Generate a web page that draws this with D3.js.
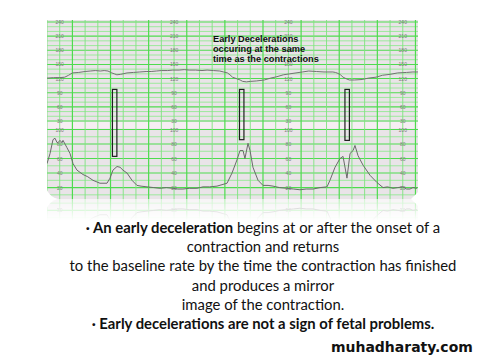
<!DOCTYPE html>
<html><head><meta charset="utf-8">
<script src="https://cdn.jsdelivr.net/npm/d3@7"></script>
<style>html,body{margin:0;padding:0;background:#fff;} svg{display:block;}</style>
</head><body>
<svg id="c" width="480" height="360"></svg>
<script>
// ---- data ----
const fhrTime=[0,5,10,14,17,20,25,30,34,38,42,45,48,51,53,55,58,63,68,73,78,82,86,90,95,99,104,108,112,117,122,126,131,136,139,142,144,146,149,152,154,157,160,165,171,176,181,186,191,196,201,206,212,218,225,227,229,231,233,236,238,242,248,253,259,264,270,276,283,288,292];
const fhrBpm=[121,122,122,123,127,132,133,135,136,137,136,137,136,132,130,128,129,132,133,134,135,135,136,137,137,138,138,139,138,138,137,138,137,136,134,132,128,123,120,117,114,113,114,115,117,121,124,128,130,132,134,136,135,134,134,133,131,128,123,119,117,117,118,121,123,127,129,132,133,134,134];
const ucTime=[0,2.4,4.7,6.3,7.9,8.7,10.2,11.8,12.6,15.7,18.1,20.5,23.6,28.3,32,36.2,41.7,47.2,49.6,51.9,55.1,57.5,59.8,63,66.9,70.8,74,78.7,84,88.9,94,99.2,103,107,112,118,122.8,128,133.8,141.7,145.6,149.5,151.9,154.3,155.8,158.2,159.8,162.1,166.1,170,174,177.9,183,188.9,194,199.1,204,209.4,215,220.4,222.7,226.7,230.6,233,236.1,238.5,240.9,242.4,244.8,248.7,254.2,259.7,264.5,268,272.3,276,280.2,283,285.7,288,291.2];
const ucValue=[53,67,86,88,82,82,85,82,85,75,67,53,44,38,35,30,26,26,33,44,49,48,44,40,30,23,22,21,20,19,20,19,18,18,19,19,21,21,22,26,40,58,71,71,60,81,71,48,30,23,23,22,20,19,18,17,18,18,20,21,30,48,60,63,33,67,71,78,64,51,37,27,20,21,19,20,21,18,18,20,19];
const fhrTicks=[240,210,180,150,120,90,60,30];
const ucTicks=[100,80,60,40,20];
const labelTimes=[10,100,190,280];
const decelStart=[51.5,151.5,234.5];
const decelEnd=[55,155,238];
const decelTop=[97,97,97];
const decelBottom=[63,86,85];
const titleLines=["Early Decelerations","occuring at the same","time as the contractions"];
const textLines=[
  [["· An early deceleration",true],[" begins at or after the onset of a",false]],
  [["contraction and returns",false]],
  [["to the baseline rate by the time the contraction has finished",false]],
  [["and produces a mirror",false]],
  [["image of the contraction.",false]],
  [["· Early decelerations are not a sign of fetal problems.",true]]
];
const watermark="muhadharaty.com";

// ---- scales ----
const svg=d3.select("#c");
const x=d3.scaleLinear().domain([0,292]).range([47,418]);
const yF=d3.scaleLinear().domain([30,240]).range([121,22]);
const yU=d3.scaleLinear().domain([0,100]).range([202.1,129.5]);
const chartTop=20,chartBottom=199;

const defs=svg.append("defs");
defs.append("clipPath").attr("id","chartClip").append("path")
  .attr("d",`M47,${chartTop} L418,${chartTop} L418,192 L411,${chartBottom} L58,${chartBottom} Q50,197 47,190 Z`);
const grad=defs.append("linearGradient").attr("id","fade").attr("x1",0).attr("y1",0).attr("x2",0).attr("y2",1);
grad.append("stop").attr("offset","0").attr("stop-color","#fff").attr("stop-opacity",0.4);
grad.append("stop").attr("offset","1").attr("stop-color","#fff").attr("stop-opacity",0);
const mask=defs.append("mask").attr("id","reflMask").attr("maskUnits","userSpaceOnUse")
  .attr("x",0).attr("y",chartBottom).attr("width",480).attr("height",30);
mask.append("rect").attr("x",0).attr("y",chartBottom).attr("width",480).attr("height",22).attr("fill","url(#fade)");

const chart=defs.append("g").attr("id","chart");
const g=chart.append("g").attr("clip-path","url(#chartClip)");

g.append("rect").attr("x",47).attr("y",chartTop).attr("width",371).attr("height",chartBottom-chartTop).attr("fill","#e9e4e8");
g.append("rect").attr("x",47).attr("y",yF(30)+1).attr("width",371).attr("height",yU(100)-yF(30)-2).attr("fill","#f6eef3");

const major="#4fdb4f", minor="#94e994";
d3.range(30,241,10).forEach(b=>{
  g.append("line").attr("x1",47).attr("x2",418).attr("y1",yF(b)).attr("y2",yF(b))
   .attr("stroke",b%30===0?major:minor).attr("stroke-width",b%30===0?1.1:0.9);
});
d3.range(0,101,10).forEach(u=>{
  g.append("line").attr("x1",47).attr("x2",418).attr("y1",yU(u)).attr("y2",yU(u))
   .attr("stroke",u%20===0?major:minor).attr("stroke-width",u%20===0?1.1:0.9);
});
d3.range(0,291,10).forEach((t,i)=>{
  g.append("line").attr("x1",x(t)).attr("x2",x(t)).attr("y1",chartTop).attr("y2",chartBottom)
   .attr("stroke",i%3===2?major:"#7fe37f").attr("stroke-width",i%3===2?1.2:0.9);
});
labelTimes.forEach(t=>{
  fhrTicks.forEach(b=>{
    g.append("text").attr("x",x(t)).attr("y",yF(b)+2).attr("text-anchor","middle")
     .attr("font-family","Liberation Sans, Arial").attr("font-size",5).attr("fill","#7d7d7d").text(b);
  });
  ucTicks.forEach(u=>{
    g.append("text").attr("x",x(t)).attr("y",yU(u)+2).attr("text-anchor","middle")
     .attr("font-family","Liberation Sans, Arial").attr("font-size",5).attr("fill","#7d7d7d").text(u);
  });
});
const fhr=fhrTime.map((t,i)=>[t,fhrBpm[i]]);
const uc=ucTime.map((t,i)=>[t,ucValue[i]]);
g.append("path").attr("d",d3.line().x(d=>x(d[0])).y(d=>yF(d[1]))(fhr))
  .attr("fill","none").attr("stroke","#727272").attr("stroke-width",1);
g.append("path").attr("d",d3.line().x(d=>x(d[0])).y(d=>yU(d[1]))(uc))
  .attr("fill","none").attr("stroke","#6a6a6a").attr("stroke-width",1);
decelStart.forEach((s,i)=>{
  g.append("rect").attr("x",x(s)).attr("y",yF(decelTop[i]))
   .attr("width",x(decelEnd[i])-x(s)).attr("height",yU(decelBottom[i])-yF(decelTop[i]))
   .attr("fill","none").attr("stroke","#1e1e1e").attr("stroke-width",1.2);
});
const titleG=g.append("g").attr("font-family","Liberation Sans, Arial").attr("font-weight","bold").attr("fill","#111");
const tprobe=titleG.append("text").attr("font-size",9).text(titleLines[2]);
const tfs=9*106/tprobe.node().getComputedTextLength();
tprobe.remove();
titleLines.forEach((s,i)=>{
  titleG.append("text").attr("x",213).attr("y",41.5+i*10).attr("font-size",tfs).text(s);
});

svg.append("use").attr("href","#chart");
svg.append("g").attr("mask","url(#reflMask)")
  .append("use").attr("href","#chart").attr("transform",`translate(0,${2*chartBottom}) scale(1,-1)`);

// ---- caption text ----
const cx=263, base0=233, lh=19.2;
const tx=svg.append("g").attr("font-family","Lato, 'Open Sans', sans-serif").attr("fill","#111");
const probe=tx.append("text").attr("font-size",15).text(textLines[2][0][0]);
const fs=15*387/probe.node().getComputedTextLength();
probe.remove();
textLines.forEach((parts,i)=>{
  const t=tx.append("text").attr("x",cx).attr("y",base0+i*lh).attr("text-anchor","middle").attr("font-size",fs);
  parts.forEach(p=>t.append("tspan").attr("font-weight",p[1]?"bold":"normal").text(p[0]));
});
const wm=svg.append("text").attr("x",331).attr("y",352).attr("font-family","DejaVu Sans, Verdana")
  .attr("font-weight","bold").attr("font-size",14).attr("fill","#111").text(watermark);
const wl=wm.node().getComputedTextLength();
wm.attr("font-size",14*142/wl);
</script>
</body></html>
